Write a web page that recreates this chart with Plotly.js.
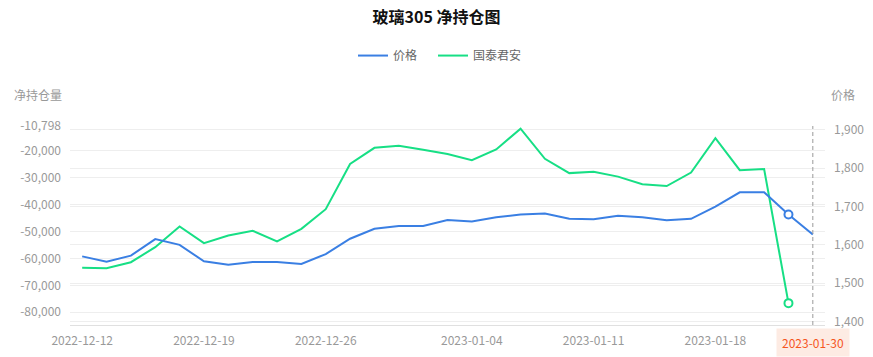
<!DOCTYPE html>
<html>
<head>
<meta charset="utf-8">
<script src="https://cdn.plot.ly/plotly-3.0.1.min.js"></script>
<style>html,body{margin:0;padding:0;background:#fff;}#chart{width:873px;height:357px;}</style>
</head>
<body>
<div id="chart"></div>
<script>
// ---- data ----
const dates = [
  "2022-12-12","2022-12-13","2022-12-14","2022-12-15","2022-12-16",
  "2022-12-19","2022-12-20","2022-12-21","2022-12-22","2022-12-23",
  "2022-12-26","2022-12-27","2022-12-28","2022-12-29","2022-12-30",
  "2023-01-03","2023-01-04","2023-01-05","2023-01-06","2023-01-09",
  "2023-01-10","2023-01-11","2023-01-12","2023-01-13","2023-01-16",
  "2023-01-17","2023-01-18","2023-01-19","2023-01-20","2023-01-29",
  "2023-01-30"
];
const price = [1570,1556,1572,1615,1600,1557,1548,1555,1555,1550,
               1576,1616,1642,1649,1649,1665,1661,1672,1679,1682,
               1668,1667,1676,1672,1664,1668,1700,1737,1737,1679,1627];
const gtja = [-63500,-63600,-61400,-55800,-48100,-54300,-51500,-49700,-53700,-49000,
              -41700,-24900,-18900,-18100,-19600,-21200,-23500,-19500,-11800,-23000,
              -28300,-27800,-29600,-32400,-33100,-28100,-15300,-27200,-26800,-76600];
const xTickLabels = ["2022-12-12","2022-12-19","2022-12-26","2023-01-04","2023-01-11","2023-01-18"];
const leftTickVals = [-10798,-20000,-30000,-40000,-50000,-60000,-70000,-80000];
const leftTickText = ["-10,798","-20,000","-30,000","-40,000","-50,000","-60,000","-70,000","-80,000"];
const rightTickVals = [1400,1500,1600,1700,1800,1900];
const rightTickText = ["1,400","1,500","1,600","1,700","1,800","1,900"];
const hoverIndex = 29;
const pointerDate = dates[dates.length - 1];

const BLUE = '#3a7fe3', GREEN = '#17df85';
const FONT = '"Noto Sans CJK SC", "Noto Sans", sans-serif';

// boundary positions for tick marks (left edge of each labelled category, plus the end)
const boundaryTicks = xTickLabels.map(d => dates.indexOf(d) - 0.5)
  .concat([dates.length - 1.5, dates.length - 0.5]);

const traces = [
  {x: dates, y: price, name: '价格', type: 'scatter', mode: 'lines',
   line: {color: BLUE, width: 2}, yaxis: 'y2', hoverinfo: 'skip', legend: 'legend'},
  {x: dates.slice(0, gtja.length), y: gtja, name: '国泰君安', type: 'scatter', mode: 'lines',
   line: {color: GREEN, width: 2}, yaxis: 'y', hoverinfo: 'skip', legend: 'legend2'},
  {x: [dates[hoverIndex]], y: [price[hoverIndex]], type: 'scatter', mode: 'markers', yaxis: 'y2',
   showlegend: false, hoverinfo: 'skip',
   marker: {symbol: 'circle', size: 8, color: '#fff', line: {color: BLUE, width: 2}}},
  {x: [dates[hoverIndex]], y: [gtja[hoverIndex]], type: 'scatter', mode: 'markers', yaxis: 'y',
   showlegend: false, hoverinfo: 'skip',
   marker: {symbol: 'circle', size: 8, color: '#fff', line: {color: GREEN, width: 2}}}
];

const legendCommon = {orientation: 'h', xanchor: 'left', y: 1.354, yanchor: 'middle',
  font: {family: FONT, size: 12, color: '#666'}, itemwidth: 30, bgcolor: 'rgba(0,0,0,0)'};

const layout = {
  width: 873, height: 357,
  margin: {l: 70, r: 48, t: 126, b: 32},
  paper_bgcolor: '#fff', plot_bgcolor: '#fff',
  font: {family: FONT, size: 12, color: '#999'},
  title: {text: '<b>玻璃305 净持仓图</b>', font: {family: FONT, size: 16, color: '#111'},
          x: 0.5, xanchor: 'center', y: 1 - 17/357, yanchor: 'middle'},
  showlegend: true,
  legend: Object.assign({}, legendCommon, {x: (353 - 70) / 755}),
  legend2: Object.assign({}, legendCommon, {x: (433 - 70) / 755}),
  xaxis: {type: 'category', categoryorder: 'array', categoryarray: dates,
          range: [-0.5, dates.length - 0.5], tickvals: xTickLabels, ticktext: xTickLabels,
          ticks: '', showgrid: false, zeroline: false,
          showline: true, linecolor: '#e0e0e0', linewidth: 1,
          tickfont: {family: FONT, size: 12, color: '#999'}, ticklabelstandoff: 5},
  xaxis2: {overlaying: 'x', anchor: 'y', type: 'linear', range: [-0.5, dates.length - 0.5],
           tickvals: boundaryTicks, ticks: 'outside', ticklen: 5, tickcolor: '#e0e0e0',
           showticklabels: false, showgrid: false, zeroline: false, showline: false},
  yaxis: {range: [-84725, -10798], tickvals: leftTickVals, ticktext: leftTickText,
          showgrid: true, gridcolor: '#eeeeee', gridwidth: 1, zeroline: false,
          showline: false, ticks: '', ticklabelstandoff: 8,
          tickfont: {family: FONT, size: 12, color: '#999'}},
  yaxis2: {overlaying: 'y', side: 'right', range: [1391, 1910],
           tickvals: rightTickVals, ticktext: rightTickText,
           showgrid: true, gridcolor: '#eeeeee', gridwidth: 1, zeroline: false,
           showline: false, ticks: '', ticklabelstandoff: 8,
           tickfont: {family: FONT, size: 12, color: '#999'}},
  shapes: [
    {type: 'line', xref: 'x', yref: 'paper', x0: pointerDate, x1: pointerDate, y0: 0, y1: 1,
     line: {color: '#999', width: 1, dash: '4px,3px'}, layer: 'above'}
  ],
  annotations: [
    {text: '净持仓量', xref: 'paper', yref: 'paper', x: -0.042, y: 1.1575,
     xanchor: 'center', yanchor: 'middle', showarrow: false,
     font: {family: FONT, size: 12, color: '#999'}},
    {text: '价格', xref: 'paper', yref: 'paper', x: 1.024, y: 1.1575,
     xanchor: 'center', yanchor: 'middle', showarrow: false,
     font: {family: FONT, size: 12, color: '#999'}},
    {text: pointerDate, xref: 'x', yref: 'paper', x: pointerDate, y: 0,
     xanchor: 'center', yanchor: 'top', yshift: -3, showarrow: false,
     bgcolor: '#fdebe3', borderpad: 5,
     font: {family: FONT, size: 12, color: '#f5561f'}}
  ]
};

Plotly.newPlot('chart', traces, layout, {displayModeBar: false, staticPlot: true});
</script>
</body>
</html>
